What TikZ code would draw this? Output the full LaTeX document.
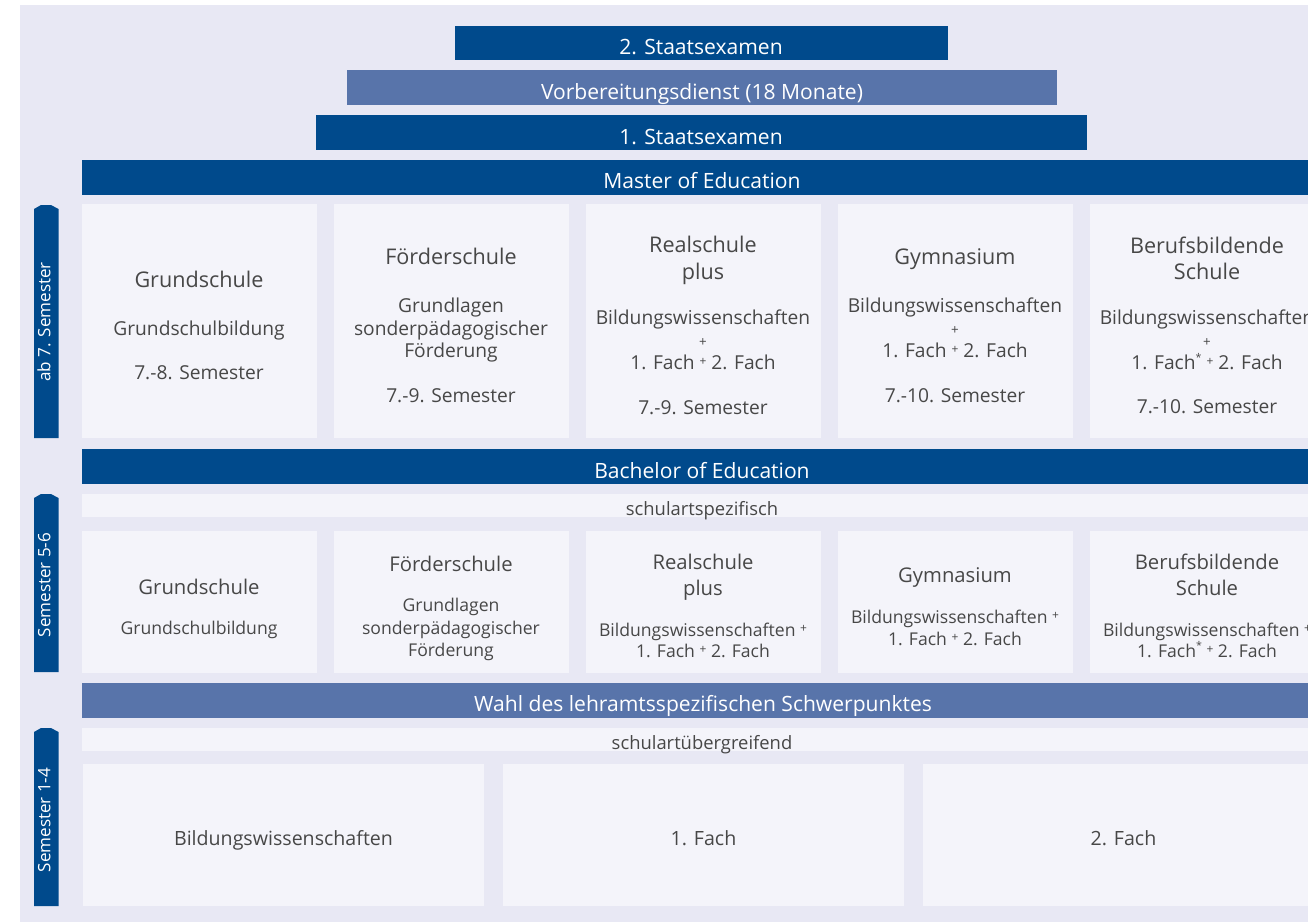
\documentclass[tikz,border=0pt]{standalone}
\usepackage{fontspec}
\setmainfont{Open Sans}
\definecolor{uniblue}{HTML}{004A8C}
\definecolor{unimid}{HTML}{5874AA}
\definecolor{paneback}{HTML}{E8E8F4}
\definecolor{cellback}{HTML}{F4F4FA}
\definecolor{inkgray}{HTML}{474747}
\newcommand{\smallplus}{\raisebox{0.2em}{\fontsize{9}{9}\selectfont +}}
\newcommand{\footstar}{\raisebox{0.45em}{\fontsize{8}{8}\selectfont *}}

\tikzset{every picture/.style={line width=0.75pt}}
\tikzset{
  bartext/.style={text=white,inner sep=0.75pt,font=\fontsize{15.8}{18}\selectfont,text height=11.1pt,text depth=3.2pt},
  headtext/.style={text=inkgray,inner sep=0.75pt,font=\fontsize{16.2}{19}\selectfont,text height=11.3pt,text depth=3.2pt},
  headsmall/.style={text=inkgray,inner sep=0.75pt,font=\fontsize{15.2}{18}\selectfont,text height=10.6pt,text depth=3pt},
  bodytext/.style={text=inkgray,inner sep=0.75pt,font=\fontsize{14.4}{17}\selectfont,text height=10.1pt,text depth=2.9pt},
  bodysmall/.style={text=inkgray,inner sep=0.75pt,font=\fontsize{13.2}{16}\selectfont,text height=9.2pt,text depth=2.6pt},
  plustext/.style={text=inkgray,inner sep=0.75pt,font=\fontsize{10}{10}\selectfont},
  striptext/.style={text=inkgray,inner sep=0.75pt,font=\fontsize{13.8}{16}\selectfont,text height=9.7pt,text depth=2.8pt},
  tabtext/.style={text=white,rotate=90,inner sep=0.75pt,font=\fontsize{12.8}{15}\selectfont,text height=9pt,text depth=2.6pt},
  basetext/.style={text=inkgray,inner sep=0.75pt,font=\fontsize{14.7}{17}\selectfont,text height=10.3pt,text depth=2.9pt}
}

\begin{document}
\begin{tikzpicture}[x=0.75pt,y=0.75pt,yscale=-1,xscale=1]
\useasboundingbox (0,0) rectangle (1308,922);
\clip (0,0) rectangle (1308,922);

%Shape: Rectangle [background]
\fill[paneback] (20,5) rectangle (1308,922);

%Shape: Bars
\fill[uniblue] (455,26) rectangle (948,60);
\fill[unimid] (347,70) rectangle (1057,105);
\fill[uniblue] (316,115) rectangle (1087,150);
\fill[uniblue] (82,160) rectangle (1323,195);
\fill[uniblue] (82,449) rectangle (1323,484);
\fill[unimid] (82,683) rectangle (1323,718);

%Shape: Strips
\fill[cellback] (82,494) rectangle (1323,517);
\fill[cellback] (82,728) rectangle (1323,751);

%Shape: Boxes
\foreach \i in {0,...,4} {
  \fill[cellback] (81.5+252*\i,204) rectangle ++(235,234);
  \fill[cellback] (82+252*\i,531) rectangle ++(235,142);
}
\foreach \i in {0,1,2} {
  \fill[cellback] (83+420*\i,764) rectangle ++(401,142);
}

%Shape: Side tabs
\fill[uniblue] (34,209) -- (41,205) -- (51,205) -- (58.5,209) -- (58.5,438) -- (34,438) -- cycle;
\fill[uniblue] (34,498) -- (41,494) -- (51,494) -- (58.5,498) -- (58.5,672) -- (34,672) -- cycle;
\fill[uniblue] (34,732) -- (41,728) -- (51,728) -- (58.5,732) -- (58.5,906) -- (34,906) -- cycle;

\begin{scope}[yshift=3pt]
% Text Node
\node[bartext] (examTwo) at (701,45) {2. Staatsexamen};
% Text Node
\node[bartext] (prepService) at (702,90) {Vorbereitungsdienst (18 Monate)};
% Text Node
\node[bartext] (examOne) at (701,135) {1. Staatsexamen};
% Text Node
\node[bartext] (master) at (702,179) {Master of Education};
% Text Node
\node[bartext] (bachelor) at (702,469) {Bachelor of Education};
% Text Node
\node[bartext] (choice) at (703,702) {Wahl des lehramtsspezifischen Schwerpunktes};
% Text Node
\node[striptext] (specific) at (702,507) {schulartspezifisch};
% Text Node
\node[striptext] (general) at (702,741) {schulartübergreifend};
\end{scope}

% Text Node
\node[tabtext] (tabMaster) at (46,322) {ab 7. Semester};
% Text Node
\node[tabtext] (tabBachelor) at (46,585) {Semester 5-6};
% Text Node
\node[tabtext] (tabBasic) at (46,820) {Semester 1-4};

\begin{scope}[yshift=3pt]
% Master row
\node[headtext] (gsHead) at (199,278) {Grundschule};
\node[bodytext] (gsBody) at (199,327) {Grundschulbildung};
\node[bodytext] (gsSem) at (199,371) {7.-8. Semester};

\node[headtext] (fsHead) at (451,255) {Förderschule};
\node[bodytext] (fsBodyA) at (451,304) {Grundlagen};
\node[bodytext] (fsBodyB) at (451,327) {sonderpädagogischer};
\node[bodytext] (fsBodyC) at (451,349) {Förderung};
\node[bodytext] (fsSem) at (451,394) {7.-9. Semester};

\node[headtext] (rsHeadA) at (703,243) {Realschule};
\node[headtext] (rsHeadB) at (703,270) {plus};
\node[bodytext] (rsBodyA) at (703,316) {Bildungswissenschaften};
\node[plustext] (rsPlus) at (703,339) {+};
\node[bodytext] (rsBodyB) at (703,361) {1. Fach \smallplus{} 2. Fach};
\node[bodytext] (rsSem) at (703,406) {7.-9. Semester};

\node[headtext] (gyHead) at (955,255) {Gymnasium};
\node[bodytext] (gyBodyA) at (955,304) {Bildungswissenschaften};
\node[plustext] (gyPlus) at (955,327) {+};
\node[bodytext] (gyBodyB) at (955,349) {1. Fach \smallplus{} 2. Fach};
\node[bodytext] (gySem) at (955,394) {7.-10. Semester};

\node[headtext] (bbHeadA) at (1207,244) {Berufsbildende};
\node[headtext] (bbHeadB) at (1207,270) {Schule};
\node[bodytext] (bbBodyA) at (1207,316) {Bildungswissenschaften};
\node[plustext] (bbPlus) at (1207,339) {+};
\node[bodytext] (bbBodyB) at (1207,361) {1. Fach\footstar{} \smallplus{} 2. Fach};
\node[bodytext] (bbSem) at (1207,405) {7.-10. Semester};

% Bachelor row
\node[headsmall] (gsHeadB) at (199,585) {Grundschule};
\node[bodysmall] (gsBodyB) at (199,626) {Grundschulbildung};

\node[headsmall] (fsHeadB) at (451,562) {Förderschule};
\node[bodysmall] (fsBodyD) at (451,603) {Grundlagen};
\node[bodysmall] (fsBodyE) at (451,626) {sonderpädagogischer};
\node[bodysmall] (fsBodyF) at (451,648) {Förderung};

\node[headsmall] (rsHeadC) at (703,560) {Realschule};
\node[headsmall] (rsHeadD) at (703,586) {plus};
\node[bodysmall] (rsBodyC) at (703,628) {Bildungswissenschaften \smallplus};
\node[bodysmall] (rsBodyD) at (703,649) {1. Fach \smallplus{} 2. Fach};

\node[headsmall] (gyHeadB) at (955,573) {Gymnasium};
\node[bodysmall] (gyBodyC) at (955,615) {Bildungswissenschaften \smallplus};
\node[bodysmall] (gyBodyD) at (955,637) {1. Fach \smallplus{} 2. Fach};

\node[headsmall] (bbHeadC) at (1207,560) {Berufsbildende};
\node[headsmall] (bbHeadD) at (1207,586) {Schule};
\node[bodysmall] (bbBodyC) at (1207,628) {Bildungswissenschaften \smallplus};
\node[bodysmall] (bbBodyD) at (1207,649) {1. Fach\footstar{} \smallplus{} 2. Fach};

% Basic row
\node[basetext] (eduSci) at (283.5,837) {Bildungswissenschaften};
\node[basetext] (subjOne) at (703.5,837) {1. Fach};
\node[basetext] (subjTwo) at (1123.5,837) {2. Fach};
\end{scope}

\end{tikzpicture}
\end{document}
